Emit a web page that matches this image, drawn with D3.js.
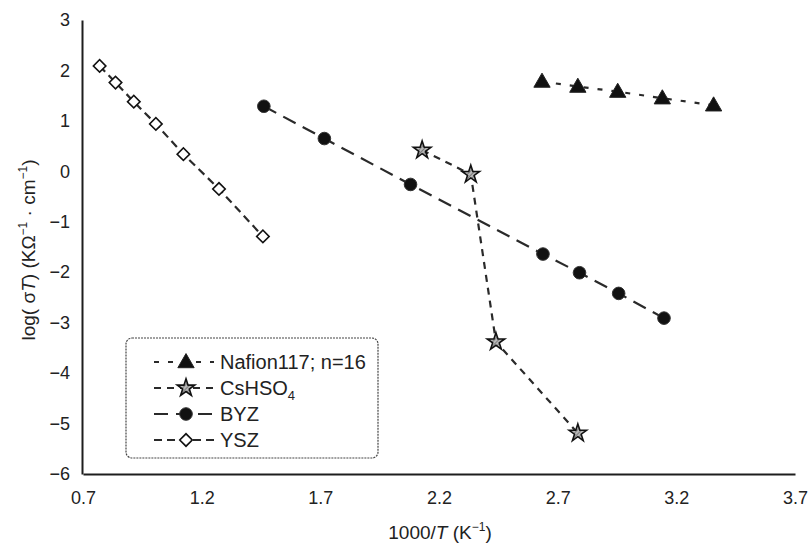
<!DOCTYPE html>
<html>
<head>
<meta charset="utf-8">
<script src="https://cdn.jsdelivr.net/npm/d3@7"></script>
<style>
  html, body { margin: 0; padding: 0; background: #fff; }
  svg { display: block; font-family: "Liberation Sans", Arial, sans-serif; }
</style>
</head>
<body>
<svg id="chart" width="809" height="548"></svg>
<script>
// ---- data ----
const xTicks = [0.7, 1.2, 1.7, 2.2, 2.7, 3.2, 3.7];
const yTicks = [-6, -5, -4, -3, -2, -1, 0, 1, 2, 3];

const nafionX = [2.634, 2.785, 2.953, 3.141, 3.357];
const nafionY = [1.78, 1.68, 1.58, 1.45, 1.31];

const csX = [2.129, 2.334, 2.44, 2.785];
const csY = [0.42, -0.06, -3.38, -5.19];

const byzX = [1.462, 1.717, 2.08, 2.638, 2.792, 2.957, 3.148];
const byzY = [1.29, 0.65, -0.26, -1.64, -2.01, -2.42, -2.91];

const yszX = [0.77, 0.837, 0.914, 1.007, 1.123, 1.273, 1.458];
const yszY = [2.09, 1.76, 1.38, 0.94, 0.34, -0.35, -1.29];

const seriesNames = ["Nafion117; n=16", "CsHSO4", "BYZ", "YSZ"];

// ---- setup ----
const svg = d3.select("#chart");
const ink = "#1e1e1e";

const x = d3.scaleLinear().domain([0.7, 3.7]).range([83, 795]);
const y = d3.scaleLinear().domain([-6, 3]).range([474, 20]);

// hatch pattern for star markers
const defs = svg.append("defs");
const pat = defs.append("pattern").attr("id", "hatch")
  .attr("patternUnits", "userSpaceOnUse").attr("width", 3).attr("height", 3)
  .attr("patternTransform", "rotate(45)");
pat.append("rect").attr("width", 3).attr("height", 3).attr("fill", "#b8b8b8");
pat.append("line").attr("x1", 0).attr("y1", 0).attr("x2", 0).attr("y2", 3)
  .attr("stroke", "#555").attr("stroke-width", 1.2);

// ---- axes ----
const gx = svg.append("g").attr("transform", `translate(0,${y(-6)})`)
  .call(d3.axisBottom(x).tickValues(xTicks).tickSize(0).tickPadding(17)
    .tickFormat(d3.format(".1f")));
const gy = svg.append("g").attr("transform", `translate(${x(0.7) - 1},0)`)
  .call(d3.axisLeft(y).tickValues(yTicks).tickSize(0).tickPadding(12)
    .tickFormat(d => d < 0 ? "\u2212" + Math.abs(d) : String(d)));

[gx, gy].forEach(g => {
  g.select(".domain").attr("stroke", ink).attr("stroke-width", 2);
  g.selectAll(".tick text").attr("fill", "#222").attr("font-size", 18)
    .attr("font-family", "Liberation Sans, Arial, sans-serif");
});

// axis titles
const xt = svg.append("text").attr("x", 440).attr("y", 539)
  .attr("text-anchor", "middle").attr("font-size", 19).attr("fill", "#222");
xt.append("tspan").text("1000/");
xt.append("tspan").attr("font-style", "italic").text("T");
xt.append("tspan").text(" (K");
xt.append("tspan").attr("font-size", 12).attr("dy", -8).text("\u22121");
xt.append("tspan").attr("dy", 8).text(")");

const yt = svg.append("text")
  .attr("transform", "translate(35,250) rotate(-90)")
  .attr("text-anchor", "middle").attr("font-size", 19).attr("fill", "#222");
yt.append("tspan").text("log( \u03c3");
yt.append("tspan").attr("font-style", "italic").text("T");
yt.append("tspan").text(")  (K\u03a9");
yt.append("tspan").attr("font-size", 12).attr("dy", -8).text("\u22121");
yt.append("tspan").attr("dy", 8).text(" \u00b7  cm");
yt.append("tspan").attr("font-size", 12).attr("dy", -8).text("\u22121");
yt.append("tspan").attr("dy", 8).text(")");

// ---- series ----
const series = [
  { name: seriesNames[0], xs: nafionX, ys: nafionY, dash: "5,9", marker: "triangle" },
  { name: seriesNames[1], xs: csX, ys: csY, dash: "7,6", marker: "star" },
  { name: seriesNames[2], xs: byzX, ys: byzY, dash: "14,8", marker: "circle" },
  { name: seriesNames[3], xs: yszX, ys: yszY, dash: "8,5", marker: "diamond" }
];

const line = d3.line().x(d => x(d[0])).y(d => y(d[1]));

function drawMarker(g, type, cx, cy, scale) {
  scale = scale || 1;
  if (type === "circle") {
    g.append("circle").attr("cx", cx).attr("cy", cy).attr("r", 6.3 * scale)
      .attr("fill", "#111").attr("stroke", "#333").attr("stroke-width", 1);
  } else if (type === "triangle") {
    g.append("path").attr("d", d3.symbol().type(d3.symbolTriangle).size(115 * scale * scale)())
      .attr("transform", `translate(${cx},${cy + 1})`)
      .attr("fill", "#111").attr("stroke", "#222").attr("stroke-width", 1);
  } else if (type === "star") {
    g.append("path").attr("d", d3.symbol().type(d3.symbolStar).size(95 * scale * scale)())
      .attr("transform", `translate(${cx},${cy})`)
      .attr("fill", "url(#hatch)").attr("stroke", "#111").attr("stroke-width", 1.6);
  } else if (type === "diamond") {
    g.append("path").attr("d", d3.symbol().type(d3.symbolSquare).size(78 * scale * scale)())
      .attr("transform", `translate(${cx},${cy}) rotate(45)`)
      .attr("fill", "#fff").attr("stroke", "#111").attr("stroke-width", 1.6);
  }
}

series.forEach(s => {
  const pts = s.xs.map((v, i) => [v, s.ys[i]]);
  const g = svg.append("g");
  g.append("path").datum(pts).attr("d", line)
    .attr("fill", "none").attr("stroke", "#2a2a2a").attr("stroke-width", 2.2)
    .attr("stroke-dasharray", s.dash);
  pts.forEach(p => drawMarker(g, s.marker, x(p[0]), y(p[1])));
});

// ---- legend ----
const lg = svg.append("g");
lg.append("rect").attr("x", 126).attr("y", 338).attr("width", 252).attr("height", 120)
  .attr("rx", 6).attr("fill", "#fff").attr("stroke", "#444").attr("stroke-width", 1.2)
  .attr("stroke-dasharray", "2,1");
const rowsY = [362, 388, 414, 440];
series.forEach((s, i) => {
  const ry = rowsY[i];
  lg.append("line").attr("x1", 154).attr("x2", 214).attr("y1", ry).attr("y2", ry)
    .attr("stroke", "#2a2a2a").attr("stroke-width", 2.2).attr("stroke-dasharray", s.dash);
  drawMarker(lg, s.marker, 186, ry);
  const t = lg.append("text").attr("x", 220).attr("y", ry + 7)
    .attr("font-size", 20).attr("fill", "#222");
  if (s.name === "CsHSO4") {
    t.append("tspan").text("CsHSO");
    t.append("tspan").attr("font-size", 13).attr("dy", 5).text("4");
  } else {
    t.text(s.name);
  }
});
</script>
</body>
</html>
